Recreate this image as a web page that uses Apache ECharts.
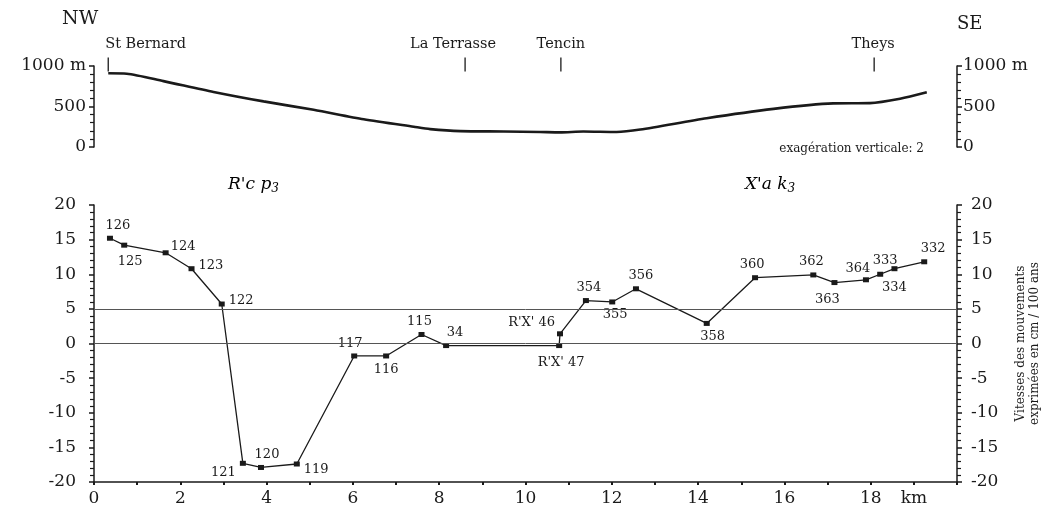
<!DOCTYPE html>
<html><head><meta charset="utf-8">
<script src="https://cdn.jsdelivr.net/npm/echarts@6/dist/echarts.min.js"></script>
<style>html,body{margin:0;padding:0;background:#fff}#c{width:1046px;height:521px}</style>
</head><body><div id="c"></div>
<script>
// ---- data ----
const profileKm   = [0.33, 0.76, 1.61, 2.77, 3.93, 5.09, 6.25, 7.41, 7.79, 8.49, 9.5, 10.34, 10.8, 11.34, 12.11, 12.66, 14.2, 15.75, 17.13, 17.98, 18.68, 19.3];
const profileElev = [910, 905, 813, 680, 563, 459, 343, 250, 221, 196, 192, 185, 180, 192, 185, 215, 355, 471, 538, 542, 596, 675];

const placeNames = ['St Bernard', 'La Terrasse', 'Tencin', 'Theys'];
const placeKm    = [0.33, 8.6, 10.82, 18.08];

const stationNames = ['126','125','124','123','122','121','120','119','117','116','115','34',"R'X' 47","R'X' 46",'354','355','356','358','360','362','363','364','333','334','332'];
const stationKm    = [0.37, 0.70, 1.66, 2.26, 2.96, 3.45, 3.87, 4.70, 6.03, 6.77, 7.59, 8.16, 10.78, 10.80, 11.40, 12.01, 12.56, 14.20, 15.32, 16.67, 17.16, 17.89, 18.22, 18.55, 19.24];
const stationVel   = [15.2, 14.2, 13.1, 10.8, 5.7, -17.3, -17.9, -17.4, -1.8, -1.8, 1.3, -0.3, -0.3, 1.4, 6.2, 6.0, 7.9, 2.9, 9.5, 9.9, 8.8, 9.2, 10.0, 10.8, 11.8];

const referenceLines = [0, 5];

// ---- styles ----
const FONT = 'DejaVu Serif';
const INK = '#1a1a1a';
const placeTickLevel = 1020;
const placeLabelStyle = [
  {align: 'left', offset: [-3, 0]}, {offset: [-12, 0]}, {offset: [0, 0]}, {offset: [-1, 0]}
];
const labelPlacement = {
  '126': ['top', 8, 0], '125': ['bottom', 6, 3], '124': ['right', -2, -6], '123': ['right', 0, -3],
  '122': ['right', 0, -3], '121': ['left', 0, 9], '120': ['top', 6, 0], '119': ['right', 0, 6],
  '117': ['top', -4, 1], '116': ['bottom', 0, 1], '115': ['top', -2, 0], '34': ['top', 9, 0],
  "R'X' 47": ['bottom', 2, 4], "R'X' 46": ['left', 2, -11], '354': ['top', 3, 0], '355': ['bottom', 3, 0],
  '356': ['top', 5, 0], '358': ['bottom', 6, 0], '360': ['top', -3, 0], '362': ['top', -2, 0],
  '363': ['bottom', -7, 4], '364': ['top', -8, 2], '333': ['top', 5, -1], '334': ['bottom', 0, 6],
  '332': ['top', 9, 0]
};

const chart = echarts.init(document.getElementById('c'), null, {renderer: 'canvas'});

const tickLabel = {fontFamily: FONT, fontSize: 17, color: INK};
function vAxis(pos, gridIndex, extra) {
  return Object.assign({
    type: 'value', gridIndex: gridIndex, position: pos,
    axisLine: {show: true, onZero: false, lineStyle: {color: INK, width: 1.5}},
    axisTick: {show: true, inside: false, length: 5, lineStyle: {color: INK, width: 1.5}},
    minorTick: {show: true, splitNumber: 5, length: 4, lineStyle: {color: INK, width: 1.2}},
    splitLine: {show: false}, minorSplitLine: {show: false}
  }, extra);
}

const option = {
  backgroundColor: '#fff',
  animation: false,
  grid: [
    {left: 94, right: 89, top: 66, height: 81, outerBoundsMode: 'none', containLabel: false},
    {left: 94, right: 89, top: 205, bottom: 39, outerBoundsMode: 'none', containLabel: false}
  ],
  xAxis: [
    {type: 'value', gridIndex: 0, min: 0, max: 20, show: false},
    {type: 'value', gridIndex: 1, min: 0, max: 20, interval: 1,
      axisLine: {show: true, onZero: false, lineStyle: {color: INK, width: 1.5}},
      axisTick: {show: true, length: 3, lineStyle: {color: INK, width: 2}},
      splitLine: {show: false},
      axisLabel: {fontFamily: FONT, fontSize: 17, color: INK, margin: 8,
        formatter: v => (v === 19 ? 'km' : (v % 2 === 0 && v < 20 ? String(v) : ''))}}
  ],
  yAxis: [
    vAxis('left', 0, {min: 0, max: 1000, interval: 500,
      axisLabel: Object.assign({margin: 8, formatter: v => v === 1000 ? '1000 m' : String(v)}, tickLabel)}),
    vAxis('right', 0, {min: 0, max: 1000, interval: 500,
      axisLabel: Object.assign({margin: 6, formatter: v => v === 1000 ? '1000 m' : String(v)}, tickLabel)}),
    vAxis('left', 1, {min: -20, max: 20, interval: 5,
      axisLabel: Object.assign({margin: 18}, tickLabel)}),
    vAxis('right', 1, {min: -20, max: 20, interval: 5,
      axisLabel: Object.assign({margin: 14}, tickLabel),
      name: 'Vitesses des mouvements\nexprimées en cm / 100 ans',
      nameLocation: 'middle', nameRotate: 90, nameGap: 57,
      nameTextStyle: {fontFamily: FONT, fontSize: 12, color: INK, lineHeight: 14}})
  ],
  series: [
    {
      type: 'line', xAxisIndex: 0, yAxisIndex: 0, silent: true,
      data: profileKm.map((k, i) => [k, profileElev[i]]),
      showSymbol: false, smooth: 0.25,
      lineStyle: {color: INK, width: 2.6}
    },
    {
      type: 'scatter', xAxisIndex: 0, yAxisIndex: 0, clip: false, silent: true,
      symbol: 'rect', symbolSize: [1.3, 14],
      itemStyle: {color: INK, opacity: 1},
      data: placeKm.map((k, i) => ({
        value: [k, placeTickLevel], name: placeNames[i], label: placeLabelStyle[i]
      })),
      label: {show: true, position: 'top', distance: 6, formatter: '{b}',
        fontFamily: FONT, fontSize: 14.5, color: INK}
    },
    {
      type: 'line', xAxisIndex: 1, yAxisIndex: 2, silent: true,
      data: stationKm.map((k, i) => {
        const p = labelPlacement[stationNames[i]] || ['top', 0, 0];
        return {value: [k, stationVel[i]], name: stationNames[i],
          label: {position: p[0], offset: [p[1], p[2]]}};
      }),
      symbol: 'rect', symbolSize: [6, 5], showAllSymbol: true,
      itemStyle: {color: INK},
      lineStyle: {color: INK, width: 1.3},
      label: {show: true, formatter: '{b}', fontFamily: FONT, fontSize: 13, color: INK, distance: 4},
      markLine: {
        silent: true, symbol: ['none', 'none'], label: {show: false},
        lineStyle: {color: '#555', width: 1, type: 'solid'},
        data: referenceLines.map(v => ({yAxis: v}))
      }
    }
  ],
  graphic: [
    {type: 'text', left: 62, top: 10, style: {text: 'NW', font: '19px "DejaVu Serif"', fill: INK}},
    {type: 'text', left: 957, top: 15, style: {text: 'SE', font: '18px "DejaVu Serif"', fill: INK}},
    {type: 'text', right: 122, top: 143, style: {text: 'exagération verticale: 2', font: '12px "DejaVu Serif"', fill: INK}},
    {type: 'text', left: 228, top: 176, style: {
      text: "{i|R'c p}{s|3}",
      rich: {i: {fontFamily: FONT, fontStyle: 'italic', fontSize: 17, color: INK},
             s: {fontFamily: FONT, fontStyle: 'italic', fontSize: 12, color: INK, padding: [8, 0, 0, 0]}}}},
    {type: 'text', left: 745, top: 176, style: {
      text: "{i|X'a k}{s|3}",
      rich: {i: {fontFamily: FONT, fontStyle: 'italic', fontSize: 17, color: INK},
             s: {fontFamily: FONT, fontStyle: 'italic', fontSize: 12, color: INK, padding: [8, 0, 0, 0]}}}}
  ]
};
chart.setOption(option);
</script>
</body></html>
